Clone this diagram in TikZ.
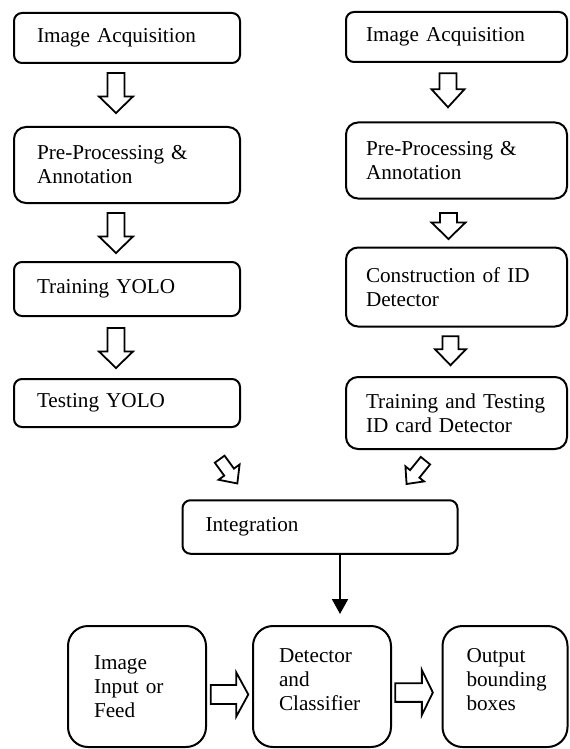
\documentclass[tikz,border=0pt]{standalone}
\usepackage{fontspec}
\setmainfont{Liberation Serif}
\usetikzlibrary{arrows.meta,calc}

\tikzset{
	stage/.style={draw, line width=1pt, rounded corners=4pt, align=left, inner xsep=11.5pt, inner ysep=0pt, font=\fontsize{10.6}{12}\selectfont},
	arrowline/.style={draw, fill=white, line width=0.9pt, line join=miter}
}

% fat outline arrow: centre, angle, length, shaft width, head width, head length
\newcommand{\fatarrow}[6]{%
	\draw[arrowline, shift={#1}, rotate=#2] (-#3/2,-#4/2) -- (#3/2-#6,-#4/2) -- (#3/2-#6,-#5/2) -- (#3/2,0) -- (#3/2-#6,#5/2) -- (#3/2-#6,#4/2) -- (-#3/2,#4/2) -- cycle;}

\begin{document}
\begin{tikzpicture}[x=0.5pt,y=-0.5pt]
	\useasboundingbox (0,0) rectangle (569,749);
	
	% left column
	\node[stage, text width=90pt, minimum height=25pt] (acqL) at (127,38) {Image Acquisition};
	\node[stage, text width=90pt, minimum height=38pt, rounded corners=6pt] (prepL) at (127,165) {Pre-Processing \&\\Annotation};
	\node[stage, text width=90pt, minimum height=27pt] (trainL) at (127,289) {Training YOLO};
	\node[stage, text width=90pt, minimum height=24pt] (testL) at (127,403) {Testing YOLO};
	
	% right column
	\node[stage, inner xsep=10pt, text width=90.5pt, minimum height=25pt] (acqR) at (456.5,37) {Image Acquisition};
	\node[stage, inner xsep=10pt, text width=90.5pt, minimum height=38pt, rounded corners=6pt] (prepR) at (456.5,160.5) {Pre-Processing \&\\Annotation};
	\node[stage, inner xsep=10pt, text width=90.5pt, minimum height=39.5pt, rounded corners=6pt] (buildR) at (456.5,287) {Construction of ID\\Detector};
	\node[stage, inner xsep=10pt, text width=90.5pt, minimum height=36pt, rounded corners=6pt] (trainR) at (456.5,413) {Training and Testing\\ID card Detector};
	
	\node[stage, text width=114.5pt, minimum height=26.75pt] (integ) at (320,527) {Integration};
	
	% bottom row
	\node[stage, inner xsep=13pt, text width=43pt, minimum height=60.5pt, rounded corners=10pt] (feed) at (137,686.5) {Image\\Input or\\Feed};
	\node[stage, inner xsep=13pt, text width=43pt, minimum height=60.5pt, rounded corners=10pt, text depth=31pt] (detect) at (322,686.5) {Detector\\and\\Classifier};
	\node[stage, inner xsep=12pt, text width=38.5pt, minimum height=60.5pt, rounded corners=10pt, text depth=31pt] (output) at (505,686.5) {Output\\bounding\\boxes};
	
	% block arrows
	\fatarrow{($(acqL.south)!0.5!(prepL.north)+(-11,-2)$)}{-90}{40}{17}{34}{16.5}
	\fatarrow{($(prepL.south)!0.5!(trainL.north)+(-11,0.5)$)}{-90}{40}{17}{34}{16.5}
	\fatarrow{($(trainL.south)!0.5!(testL.north)+(-11,0.5)$)}{-90}{40}{17}{34}{16.5}
	
	\fatarrow{($(acqR.south)!0.5!(prepR.north)+(-8.5,-2)$)}{-90}{34}{17}{33}{18}
	\fatarrow{($(prepR.south)!0.5!(buildR.north)+(-8,3)$)}{-90}{26}{17}{34}{16.5}
	\fatarrow{($(buildR.south)!0.5!(trainR.north)+(-6,-1)$)}{-90}{29}{16}{31}{16}
	
	\fatarrow{($(testL.south)!0.5!(integ.north)+(5,7.7)$)}{-54}{30}{12}{26}{14}
	\fatarrow{($(trainR.south)!0.5!(integ.north)+(27.75,-2.3)$)}{-129}{30}{12}{24}{13}
	
	\fatarrow{($(feed.east)!0.5!(detect.west)+(0,8)$)}{0}{37.6}{19}{44}{12}
	\fatarrow{($(detect.east)!0.5!(output.west)+(-2.75,6)$)}{0}{37.7}{18.7}{45}{11}
	
	\draw[line width=1pt, -{Triangle[width=8pt,length=7.5pt]}, shorten >=5.5pt] ([xshift=10pt]integ.south) -- ([xshift=10pt]integ.south |- detect.north);
\end{tikzpicture}
\end{document}
